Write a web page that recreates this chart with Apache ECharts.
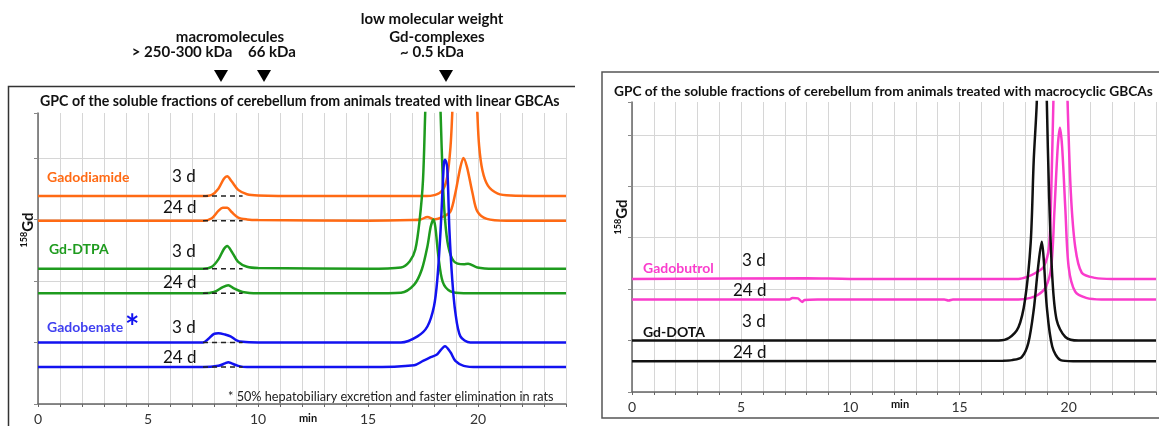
<!DOCTYPE html>
<html><head><meta charset="utf-8">
<script src="https://cdn.jsdelivr.net/npm/echarts@6/dist/echarts.min.js"></script>
<style>html,body{margin:0;padding:0;background:#fff;}#c{width:1159px;height:426px;}</style>
</head><body><div id="c"></div>
<script>
// ---------- DATA (time in min, signal in grid units) ----------
const xTicksLabelled = [0, 5, 10, 15, 20];
const dashRange = [7.5, 9.3];
const leftBaselines = [3.38, 2.98, 2.2, 1.8, 1.0, 0.6];

const gadodiamide3d = [[0,3.38],[7.5,3.38],[7.9,3.40],[8.2,3.50],[8.45,3.66],[8.6,3.70],[8.8,3.62],[9.1,3.48],[9.5,3.41],[10,3.39],[12,3.38],[15,3.38],[17.5,3.38],[18.06,3.40],[18.4,3.48],[18.6,3.69],[18.75,4.18],[18.83,4.73],[19.0,6.2],[19.4,7.5],[19.8,6.2],[19.97,4.73],[20.05,4.2],[20.2,3.8],[20.45,3.55],[20.9,3.42],[21.5,3.39],[24,3.38]];
const gadodiamide24d = [[0,2.98],[7.5,2.98],[7.9,3.02],[8.2,3.14],[8.4,3.19],[8.6,3.19],[8.8,3.12],[9.1,3.03],[9.5,3.00],[10,2.99],[15,2.98],[17.0,2.99],[17.4,3.00],[17.7,3.04],[18.0,3.00],[18.4,3.04],[18.75,3.13],[18.97,3.43],[19.2,3.85],[19.34,4.0],[19.5,3.85],[19.75,3.43],[19.97,3.13],[20.4,3.01],[21.3,2.98],[24,2.98]];
const gdDtpa3d = [[0,2.2],[7.5,2.2],[7.9,2.23],[8.2,2.35],[8.45,2.52],[8.6,2.57],[8.8,2.48],[9.1,2.31],[9.5,2.23],[10,2.21],[15,2.2],[16.5,2.22],[16.9,2.32],[17.15,2.51],[17.35,3.0],[17.5,3.64],[17.6,4.73],[17.8,7.0],[17.95,8.0],[18.1,7.0],[18.3,4.73],[18.4,3.64],[18.5,3.0],[18.65,2.56],[18.9,2.32],[19.35,2.27],[19.55,2.28],[19.97,2.22],[20.7,2.2],[24,2.2]];
const gdDtpa24d = [[0,1.8],[7.5,1.8],[8.0,1.82],[8.4,1.9],[8.65,1.93],[8.9,1.88],[9.3,1.82],[10,1.8],[15,1.8],[16.5,1.81],[17.1,1.94],[17.45,2.19],[17.7,2.56],[17.85,2.88],[17.97,3.0],[18.06,2.88],[18.2,2.40],[18.4,1.98],[18.75,1.83],[19.35,1.80],[24,1.80]];
const gadobenate3d = [[0,1.0],[7.5,1.0],[7.75,1.06],[8.0,1.14],[8.2,1.15],[8.5,1.13],[8.75,1.1],[9.0,1.04],[9.3,1.01],[10,1.0],[15,1.0],[16.5,1.0],[17.25,1.10],[17.7,1.26],[18.0,1.59],[18.15,2.02],[18.3,2.83],[18.45,3.92],[18.5,3.97],[18.6,3.85],[18.7,2.83],[18.83,2.02],[18.97,1.49],[19.2,1.10],[19.65,1.0],[24,1.0]];
const gadobenate24d = [[0,0.6],[7.5,0.6],[8.2,0.62],[8.5,0.66],[8.65,0.68],[8.8,0.66],[9.1,0.62],[9.5,0.6],[15,0.6],[17.1,0.63],[17.5,0.70],[17.85,0.76],[18.15,0.81],[18.5,0.94],[18.75,0.84],[18.97,0.70],[19.35,0.62],[20,0.6],[24,0.6]];

const gadobutrol3d = [[0,2.2],[8,2.21],[10,2.2],[17.7,2.2],[18.1,2.24],[18.5,2.32],[18.85,2.43],[19.1,2.82],[19.2,3.87],[19.3,5.64],[19.45,8],[19.63,9],[19.8,8],[19.95,5.64],[20.1,3.87],[20.3,2.82],[20.6,2.32],[21.2,2.22],[22,2.2],[24,2.2]];
const gadobutrol24d = [[0,1.8],[7.2,1.8],[7.35,1.83],[7.6,1.82],[7.8,1.75],[7.9,1.79],[8.5,1.8],[14.3,1.8],[14.5,1.78],[14.7,1.8],[17.7,1.8],[18.25,1.83],[18.6,1.89],[18.95,2.04],[19.2,2.43],[19.35,3.54],[19.5,4.77],[19.6,5.14],[19.7,4.77],[19.85,3.54],[20.0,2.43],[20.3,1.95],[20.8,1.83],[21.5,1.8],[24,1.8]];
const gdDota3d = [[0,1.0],[16.8,1.0],[17.26,1.05],[17.7,1.26],[18.0,1.79],[18.26,2.90],[18.4,4.51],[18.54,5.64],[18.65,7.5],[18.77,8.5],[18.9,7.5],[19.0,5.64],[19.1,3.87],[19.25,2.24],[19.45,1.40],[19.85,1.07],[20.45,1.0],[24,1.0]];
const gdDota24d = [[0,0.6],[17.0,0.61],[17.4,0.62],[17.85,0.68],[18.15,0.95],[18.4,1.60],[18.6,2.43],[18.77,2.92],[18.86,2.57],[19.0,1.65],[19.25,0.88],[19.63,0.62],[20.2,0.6],[24,0.6]];

// ---------- STYLE ----------
const ORANGE = '#FF6A14', GREEN = '#1E9B1E', BLUE = '#1212F0', MAGENTA = '#FA3CCC', BLACK = '#111111';
const FONT = 'Lato, "Open Sans", sans-serif';
const GRIDC = '#d6d6d6';

function axisX(gridIndex) {
  return {
    type: 'value', gridIndex, min: 0, max: 24, interval: 1,
    axisLine: { show: true, onZero: false, lineStyle: { color: '#666', width: 1.5 } },
    axisTick: { show: true, length: 3, lineStyle: { color: '#666' } },
    axisLabel: { fontFamily: FONT, fontSize: 14, color: '#333', margin: 8,
      formatter: v => xTicksLabelled.includes(v) ? String(v) : '' },
    splitLine: { show: true, lineStyle: { color: GRIDC, width: 1 } }
  };
}
function axisY(gridIndex, max) {
  const cols = [];
  for (let i = 0; i <= Math.floor(max); i++) cols.push(GRIDC);
  cols.push('rgba(0,0,0,0)');
  return {
    type: 'value', gridIndex, min: 0, max, interval: 1,
    axisLine: { show: true, lineStyle: { color: '#666', width: 1.5 } },
    axisTick: { show: true, length: 4, lineStyle: { color: '#888' } },
    axisLabel: { show: false },
    splitLine: { show: true, lineStyle: { color: cols, width: 1 } }
  };
}
function trace(data, color, xi) {
  return { type: 'line', xAxisIndex: xi, yAxisIndex: xi, data, showSymbol: false, smooth: 0.3,
    lineStyle: { color, width: 2.5 }, z: 3, silent: true };
}
function dash(b) {
  return { type: 'line', xAxisIndex: 0, yAxisIndex: 0, data: [[dashRange[0], b], [dashRange[1], b]], showSymbol: false,
    lineStyle: { color: '#222', width: 1.5, type: [5, 4] }, z: 4, silent: true };
}

const chart = echarts.init(document.getElementById('c'), null, { renderer: 'canvas' });

function txt(text, x, y, opts) {
  return { type: 'text', x, y, z: 10, silent: true,
    style: Object.assign({ text, font: '15px ' + FONT, fill: '#222', align: 'left', verticalAlign: 'middle' }, opts || {}) };
}
function bold(size) { return 'bold ' + size + 'px ' + FONT; }
function tri(cx, cy) {
  return { type: 'polygon', z: 10, silent: true, shape: { points: [[cx - 7, cy - 6], [cx + 7, cy - 6], [cx, cy + 6]] }, style: { fill: '#000' } };
}
function gdLabel(x, y) {
  return { type: 'text', x, y, rotation: Math.PI / 2, z: 10, silent: true,
    style: { text: '{s|158}{g|Gd}', align: 'center', verticalAlign: 'middle',
      rich: { s: { font: bold(9), fill: '#111', verticalAlign: 'top', padding: [0, 0, 8, 0] }, g: { font: bold(15), fill: '#111' } } } };
}

const graphics = [
  // boxes
  { type: 'polyline', z: 1, silent: true, shape: { points: [[8.5, 426], [8.5, 86.5], [575, 86.5]] }, style: { stroke: '#333', lineWidth: 1.5, fill: null } },
  { type: 'rect', z: 1, silent: true, shape: { x: 602, y: 72, width: 600, height: 346 }, style: { stroke: '#555', lineWidth: 1.5, fill: null } },
  // top annotations
  txt('low molecular weight', 432, 19, { font: bold(15), fill: '#111', align: 'center' }),
  txt('macromolecules', 230, 37, { font: bold(15), fill: '#111', align: 'center' }),
  txt('Gd-complexes', 437, 37, { font: bold(15), fill: '#111', align: 'center' }),
  txt('> 250-300 kDa', 182, 52, { font: bold(15), fill: '#111', align: 'center' }),
  txt('66 kDa', 272, 52, { font: bold(15), fill: '#111', align: 'center' }),
  txt('~ 0.5 kDa', 432, 52, { font: bold(15), fill: '#111', align: 'center' }),
  tri(221, 76), tri(264, 76), tri(446, 76),
  // titles
  txt('GPC of the soluble fractions of cerebellum from animals treated with linear GBCAs', 40, 101, { font: bold(14.2), fill: '#111' }),
  txt('GPC of the soluble fractions of cerebellum from animals treated with macrocyclic GBCAs', 614, 92, { font: bold(13.7), fill: '#111' }),
  gdLabel(28, 230), gdLabel(622, 217),
  // left labels
  txt('Gadodiamide', 47, 177, { font: bold(14), fill: ORANGE }),
  txt('3 d', 172, 177, { font: '17px ' + FONT, fill: '#111' }),
  txt('24 d', 163, 208, { font: '17px ' + FONT, fill: '#111' }),
  txt('Gd-DTPA', 49, 249, { font: bold(14), fill: GREEN }),
  txt('3 d', 172, 252, { font: '17px ' + FONT, fill: '#111' }),
  txt('24 d', 163, 283, { font: '17px ' + FONT, fill: '#111' }),
  txt('Gadobenate', 47, 327, { font: bold(14), fill: '#3F3FF0' }),
  txt('*', 125, 328, { font: bold(34), fill: BLUE }),
  txt('3 d', 172, 328, { font: '17px ' + FONT, fill: '#111' }),
  txt('24 d', 163, 358, { font: '17px ' + FONT, fill: '#111' }),
  txt('* 50% hepatobiliary excretion and faster elimination in rats', 228, 397, { font: '12.7px ' + FONT, fill: '#222' }),
  txt('min', 308, 418, { font: bold(11), fill: '#111', align: 'center' }),
  // right labels
  txt('Gadobutrol', 643, 268, { font: bold(14), fill: MAGENTA }),
  txt('3 d', 742, 261, { font: '17px ' + FONT, fill: '#111' }),
  txt('24 d', 733, 291, { font: '17px ' + FONT, fill: '#111' }),
  txt('Gd-DOTA', 643, 332, { font: bold(14), fill: '#111' }),
  txt('3 d', 742, 322, { font: '17px ' + FONT, fill: '#111' }),
  txt('24 d', 733, 353, { font: '17px ' + FONT, fill: '#111' }),
  txt('min', 900, 404, { font: bold(11), fill: '#111', align: 'center' })
];

chart.setOption({
  animation: false,
  backgroundColor: '#fff',
  grid: [
    { left: 38, top: 113, width: 528, height: 292 },
    { left: 632, top: 102, width: 526, height: 290 }
  ],
  xAxis: [axisX(0), axisX(1)],
  yAxis: [axisY(0, 4.73), axisY(1, 5.64)],
  series: [
    trace(gadodiamide3d, ORANGE, 0), trace(gadodiamide24d, ORANGE, 0),
    trace(gdDtpa3d, GREEN, 0), trace(gdDtpa24d, GREEN, 0),
    trace(gadobenate3d, BLUE, 0), trace(gadobenate24d, BLUE, 0),
    ...leftBaselines.map(dash),
    trace(gadobutrol3d, MAGENTA, 1), trace(gadobutrol24d, MAGENTA, 1),
    trace(gdDota3d, BLACK, 1), trace(gdDota24d, BLACK, 1)
  ],
  graphic: graphics
});
</script></body></html>
